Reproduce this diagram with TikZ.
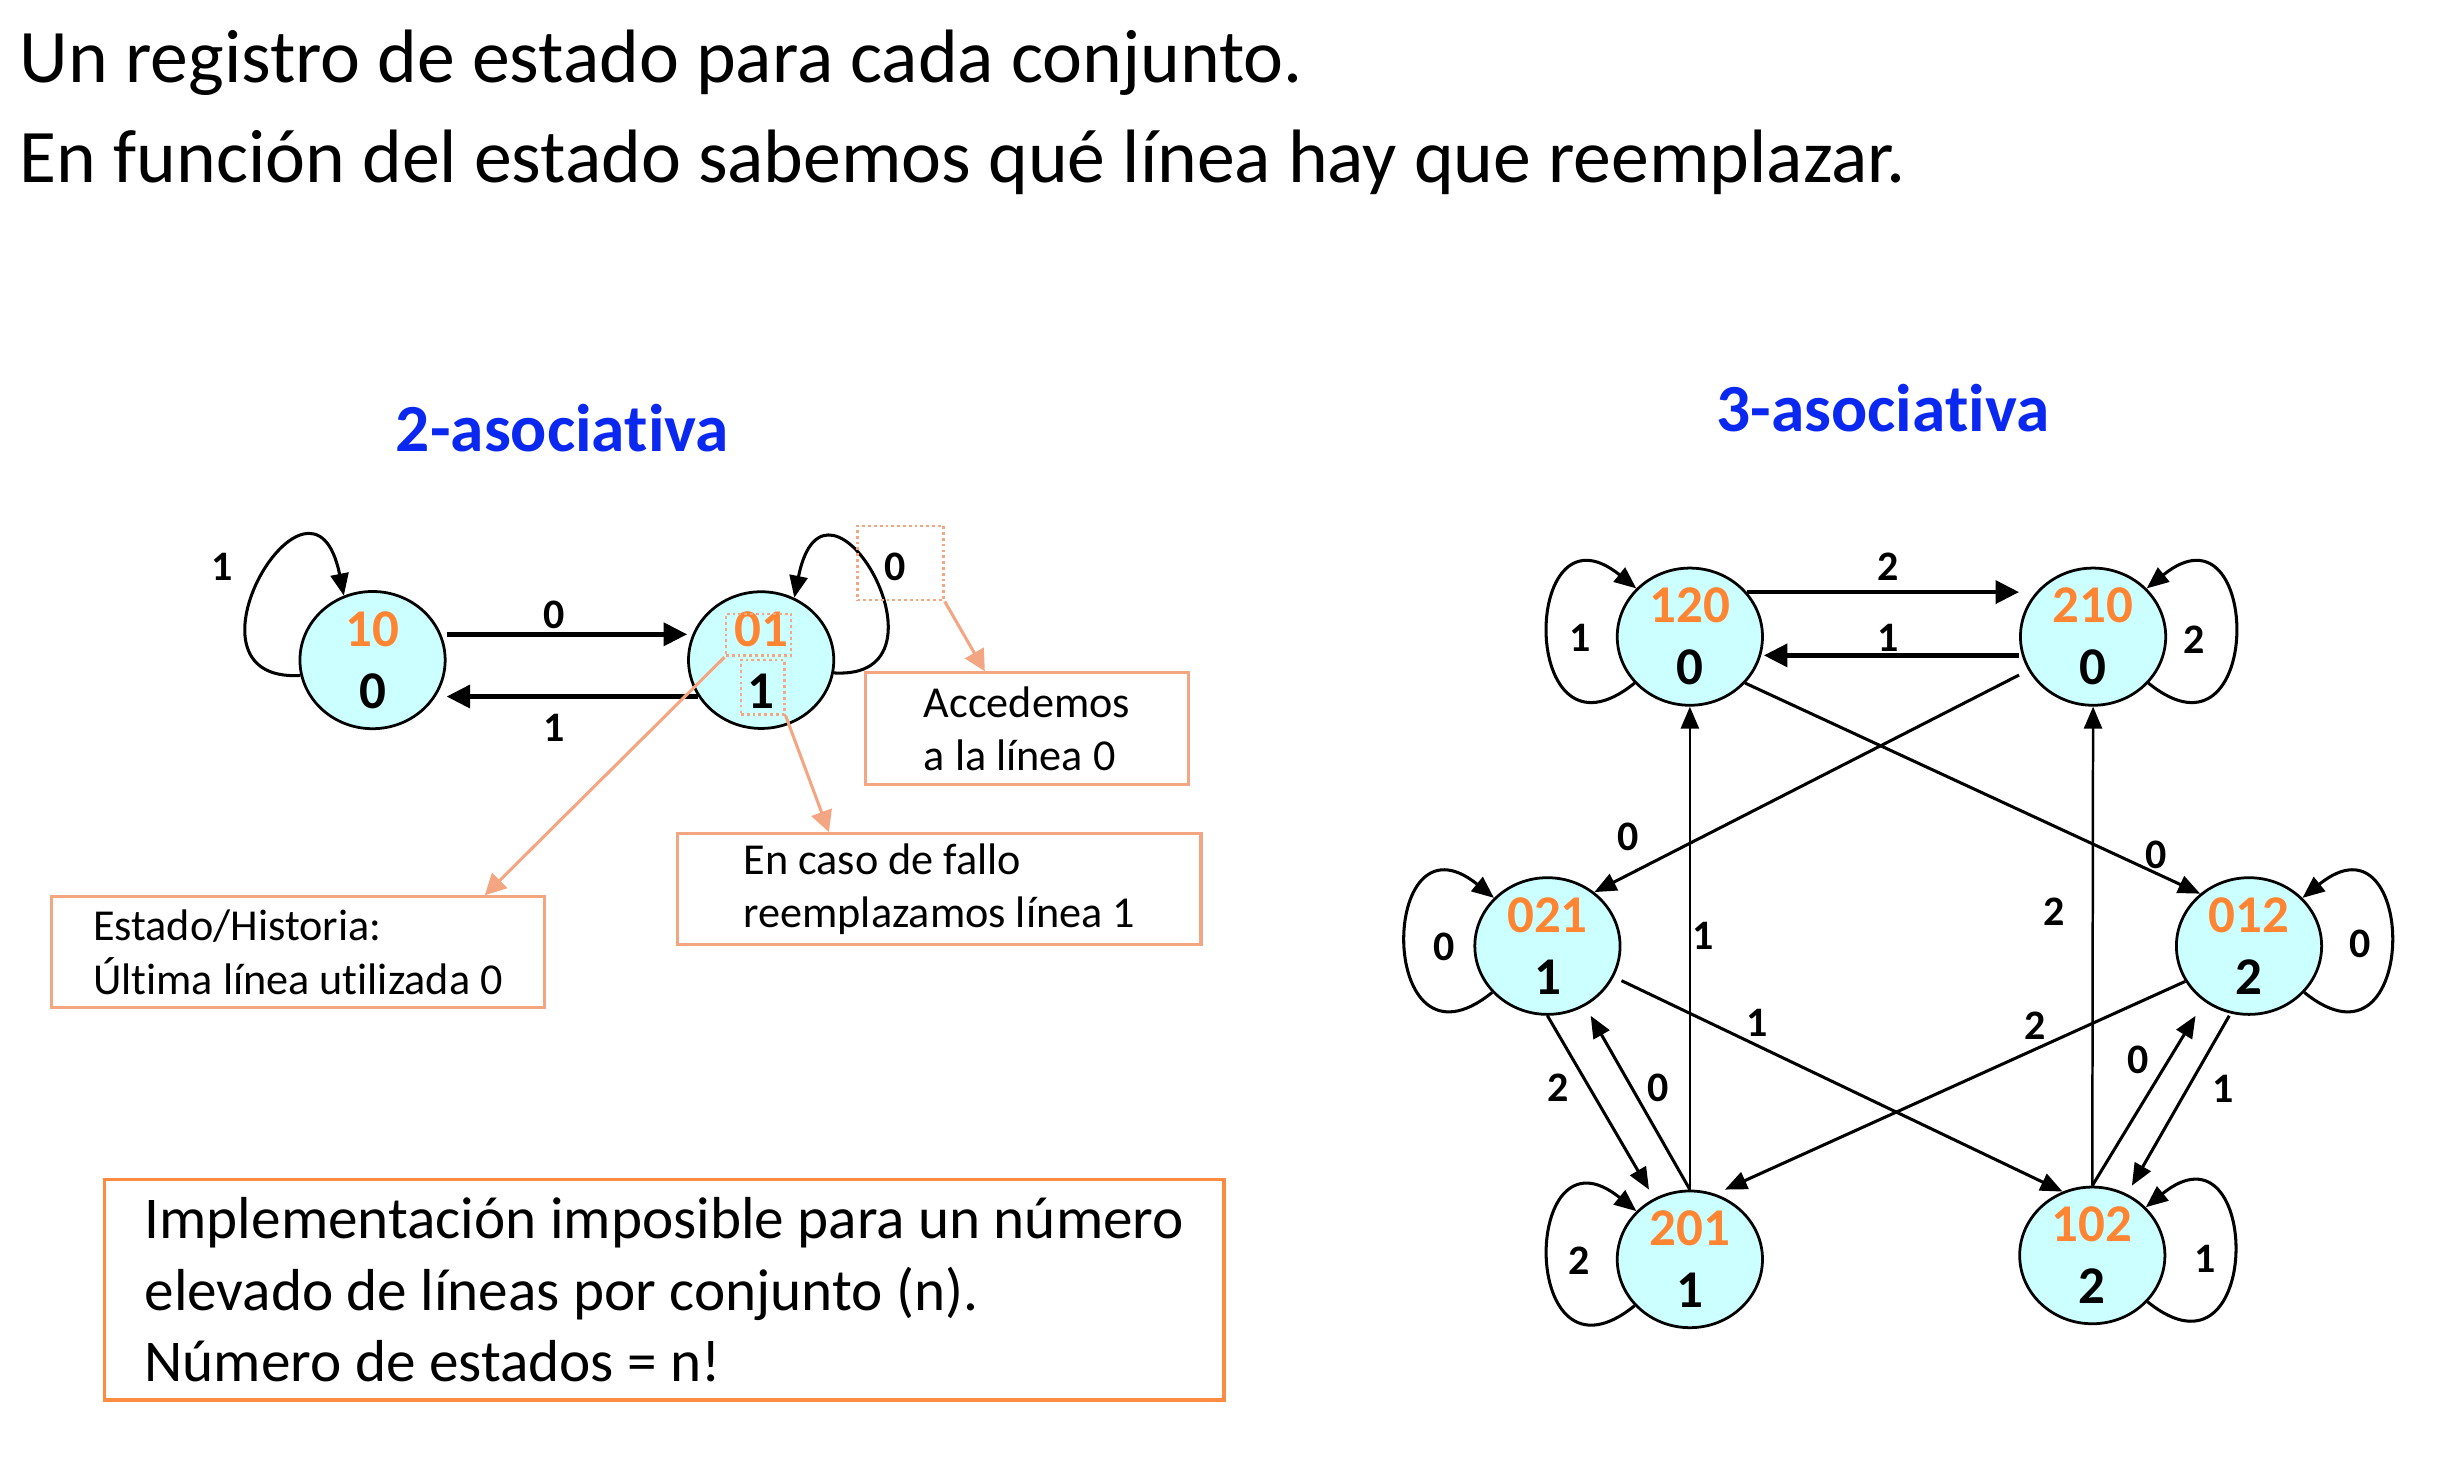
\documentclass[tikz,border=0pt]{standalone}
\usepackage{fontspec}
\setmainfont{Carlito}[Ligatures=NoCommon]
\usetikzlibrary{arrows.meta}
\usetikzlibrary{shapes.geometric}
\definecolor{stfill}{HTML}{CCFFFF}
\definecolor{numor}{HTML}{FF8533}
\definecolor{headblue}{HTML}{0A28F0}
\definecolor{callcol}{HTML}{F4A582}
\definecolor{boxor}{HTML}{FF8C42}
\tikzstyle{state}=[ellipse,draw,line width=0.5pt,fill=stfill,minimum width=9.24mm,minimum height=8.48mm,inner sep=0pt,align=center,font=\fontsize{9.6}{11.2}\selectfont\bfseries]
\tikzstyle{arc}=[line width=0.55pt,-{Triangle[length=1.4mm,width=1.15mm]}]
\tikzstyle{arcthin}=[line width=0.45pt,-{Triangle[length=1.4mm,width=1.15mm]}]
\tikzstyle{arcthick}=[line width=0.8pt,-{Triangle[length=1.5mm,width=1.45mm]}]
\tikzstyle{lbl}=[inner sep=0pt,font=\fontsize{7.6}{8}\selectfont\bfseries]
\tikzstyle{head}=[anchor=base,inner sep=0pt,text=headblue,font=\fontsize{12.2}{14}\selectfont\bfseries]
\tikzstyle{dotbox}=[draw=callcol,line width=0.5pt,dash pattern=on 0.5pt off 0.55pt,inner sep=0pt]
\tikzstyle{callout}=[draw=callcol,line width=0.55pt,align=left,inner sep=0pt,font=\fontsize{8}{9.7}\selectfont]
\tikzstyle{pointer}=[callcol,line width=0.55pt,-{Triangle[length=1.35mm,width=1.35mm]}]

\begin{document}
\begin{tikzpicture}[x=0.1mm,y=-0.1mm]
  \useasboundingbox (0,0) rectangle (1556,933.85);

  % title lines
  \node[anchor=base west,inner sep=0pt,font=\fontsize{13.7}{18}\selectfont] (title1)
    at (12,52.6) {Un registro de estado para cada conjunto.};
  \node[anchor=base west,inner sep=0pt,font=\fontsize{13.7}{18}\selectfont] (title2)
    at (12,116.2) {En función del estado sabemos qué línea hay que reemplazar.};

  \node[head] (head2) at (357.7,287.3) {2-asociativa};
  \node[head] (head3) at (1197.7,274.6) {3-asociativa};

  % 2-asociativa states
  \node[state] (s10) at (237,419.9) {\textcolor{numor}{10}\\0};
  \node[state] (s01) at (484.2,419.9) {\textcolor{numor}{01}\\1};

  \draw[arc] (s10.192) .. controls +(-85,5) and +(-20,-100) .. (s10.114);
  \draw[arc] (s01.-10) .. controls +(82,5) and +(20,-100) .. (s01.62);
  \draw[arcthick] ([yshift=1.64mm]s10.east) -- ([yshift=1.64mm]s01.west);
  \draw[arcthick] (s01.210) -- (s01.210 -| s10.east);

  \node[lbl] (q10) at (141.6,360.8) {1};
  \node[lbl] (q01) at (569.5,360.8) {0};
  \node[lbl] (q10a) at (352.5,391.3) {0};
  \node[lbl] (q01a) at (352.7,463) {1};

  % marks + notes
  \node[dotbox,minimum width=4.14mm,minimum height=2.65mm] (m01) at (482.5,403.85) {};
  \node[dotbox,minimum width=2.75mm,minimum height=3.46mm] (m1) at (485.15,437.1) {};
  \node[dotbox,minimum width=5.45mm,minimum height=4.71mm] (m0) at (572.85,358.15) {};

  \node[callout,minimum width=20.53mm,minimum height=7.11mm] (acc)
    at (653.3,463.55) {Accedemos\\a la línea 0};
  \node[callout,minimum width=33.3mm,minimum height=7.08mm] (caso)
    at (597.5,565.7) {En caso de fallo\\reemplazamos línea 1};
  \node[callout,minimum width=31.32mm,minimum height=7.07mm] (est)
    at (189.6,605.85) {Estado/Historia:\\Última línea utilizada 0};

  \draw[pointer] (m0.south east) -- ([xshift=-2.68mm]acc.north);
  \draw[pointer] (m01.south west) -- ([xshift=-3.88mm]est.north east);
  \draw[pointer] (m1.south east) -- ([xshift=9.73mm]caso.north west);

  \node[draw=boxor,line width=0.6pt,align=left,inner sep=0pt,minimum width=71.2mm,
    minimum height=14.02mm,font=\fontsize{10.72}{13}\selectfont] (impl) at (422.6,820.5)
    {Implementación imposible para un número\\elevado de líneas por conjunto (n).\\Número de estados = n!};

  % 3-asociativa states
  \node[state] (s120) at (1075,405) {\textcolor{numor}{120}\\0};
  \node[state] (s210) at (1331.5,405) {\textcolor{numor}{210}\\0};
  \node[state] (s021) at (984.4,601.8) {\textcolor{numor}{021}\\1};
  \node[state] (s012) at (1430.7,601.8) {\textcolor{numor}{012}\\2};
  \node[state] (s201) at (1075,801.1) {\textcolor{numor}{201}\\1};
  \node[state] (s102) at (1331,798.6) {\textcolor{numor}{102}\\2};

  % self loops
  \draw[arc] (s120.220) .. controls +(-74,60) and +(-74,-60) .. (s120.138);
  \draw[arc] (s021.220) .. controls +(-74,60) and +(-74,-60) .. (s021.138);
  \draw[arc] (s201.220) .. controls +(-74,60) and +(-74,-60) .. (s201.138);
  \draw[arc] (s210.-40) .. controls +(74,60) and +(74,-60) .. (s210.42);
  \draw[arc] (s012.-40) .. controls +(74,60) and +(74,-60) .. (s012.42);
  \draw[arc] (s102.-40) .. controls +(74,60) and +(74,-60) .. (s102.42);

  % transitions
  \draw[arcthick] (s120.38) -- (s120.38 -| s210.west);
  \draw[arcthick] ([yshift=-1.19mm]s210.west) -- ([yshift=-1.19mm]s120.east);
  \draw[arc] ([yshift=-2.44mm]s210.west) -- (s021.49);
  \draw[arc] (s120.-40) -- (s012.133);
  \draw[arc] ([yshift=-2.2mm]s021.east) -- (s102.115);
  \draw[arc] (s012.209) -- ([xshift=2.23mm]s201.north);
  \draw[arcthin] (s201.north) -- (s120.south);
  \draw[arcthin] (s102.north) -- (s210.south);
  \draw[arc] (s021.south) -- ([xshift=-2.6mm]s201.north);
  \draw[arc] (s201.north) -- ([xshift=2.75mm]s021.south);
  \draw[arc] (s102.north) -- ([xshift=-3.4mm]s012.south);
  \draw[arc] ([xshift=-1.26mm]s012.south) -- ([xshift=2.52mm]s102.north);

  % transition labels
  \node[lbl] (q120a) at (1201.2,360.7) {2};
  \node[lbl] (q210a) at (1201,405.8) {1};
  \node[lbl] (q120) at (1005,405.8) {1};
  \node[lbl] (q210) at (1395.5,407.2) {2};
  \node[lbl] (q210b) at (1035.9,532.5) {0};
  \node[lbl] (q120b) at (1371.3,543.5) {0};
  \node[lbl] (q021) at (918.4,602.2) {0};
  \node[lbl] (q012) at (1501.3,600.4) {0};
  \node[lbl] (q201a) at (1083.2,595.1) {1};
  \node[lbl] (q102a) at (1306.6,580.1) {2};
  \node[lbl] (q021a) at (1117.5,650.4) {1};
  \node[lbl] (q012a) at (1294.7,652.2) {2};
  \node[lbl] (q021b) at (991.3,692.1) {2};
  \node[lbl] (q201b) at (1054.9,691.8) {0};
  \node[lbl] (q102b) at (1360,674.3) {0};
  \node[lbl] (q012b) at (1414.1,692.9) {1};
  \node[lbl] (q201) at (1004.8,802.2) {2};
  \node[lbl] (q102) at (1402.9,800.8) {1};

\end{tikzpicture}
\end{document}
